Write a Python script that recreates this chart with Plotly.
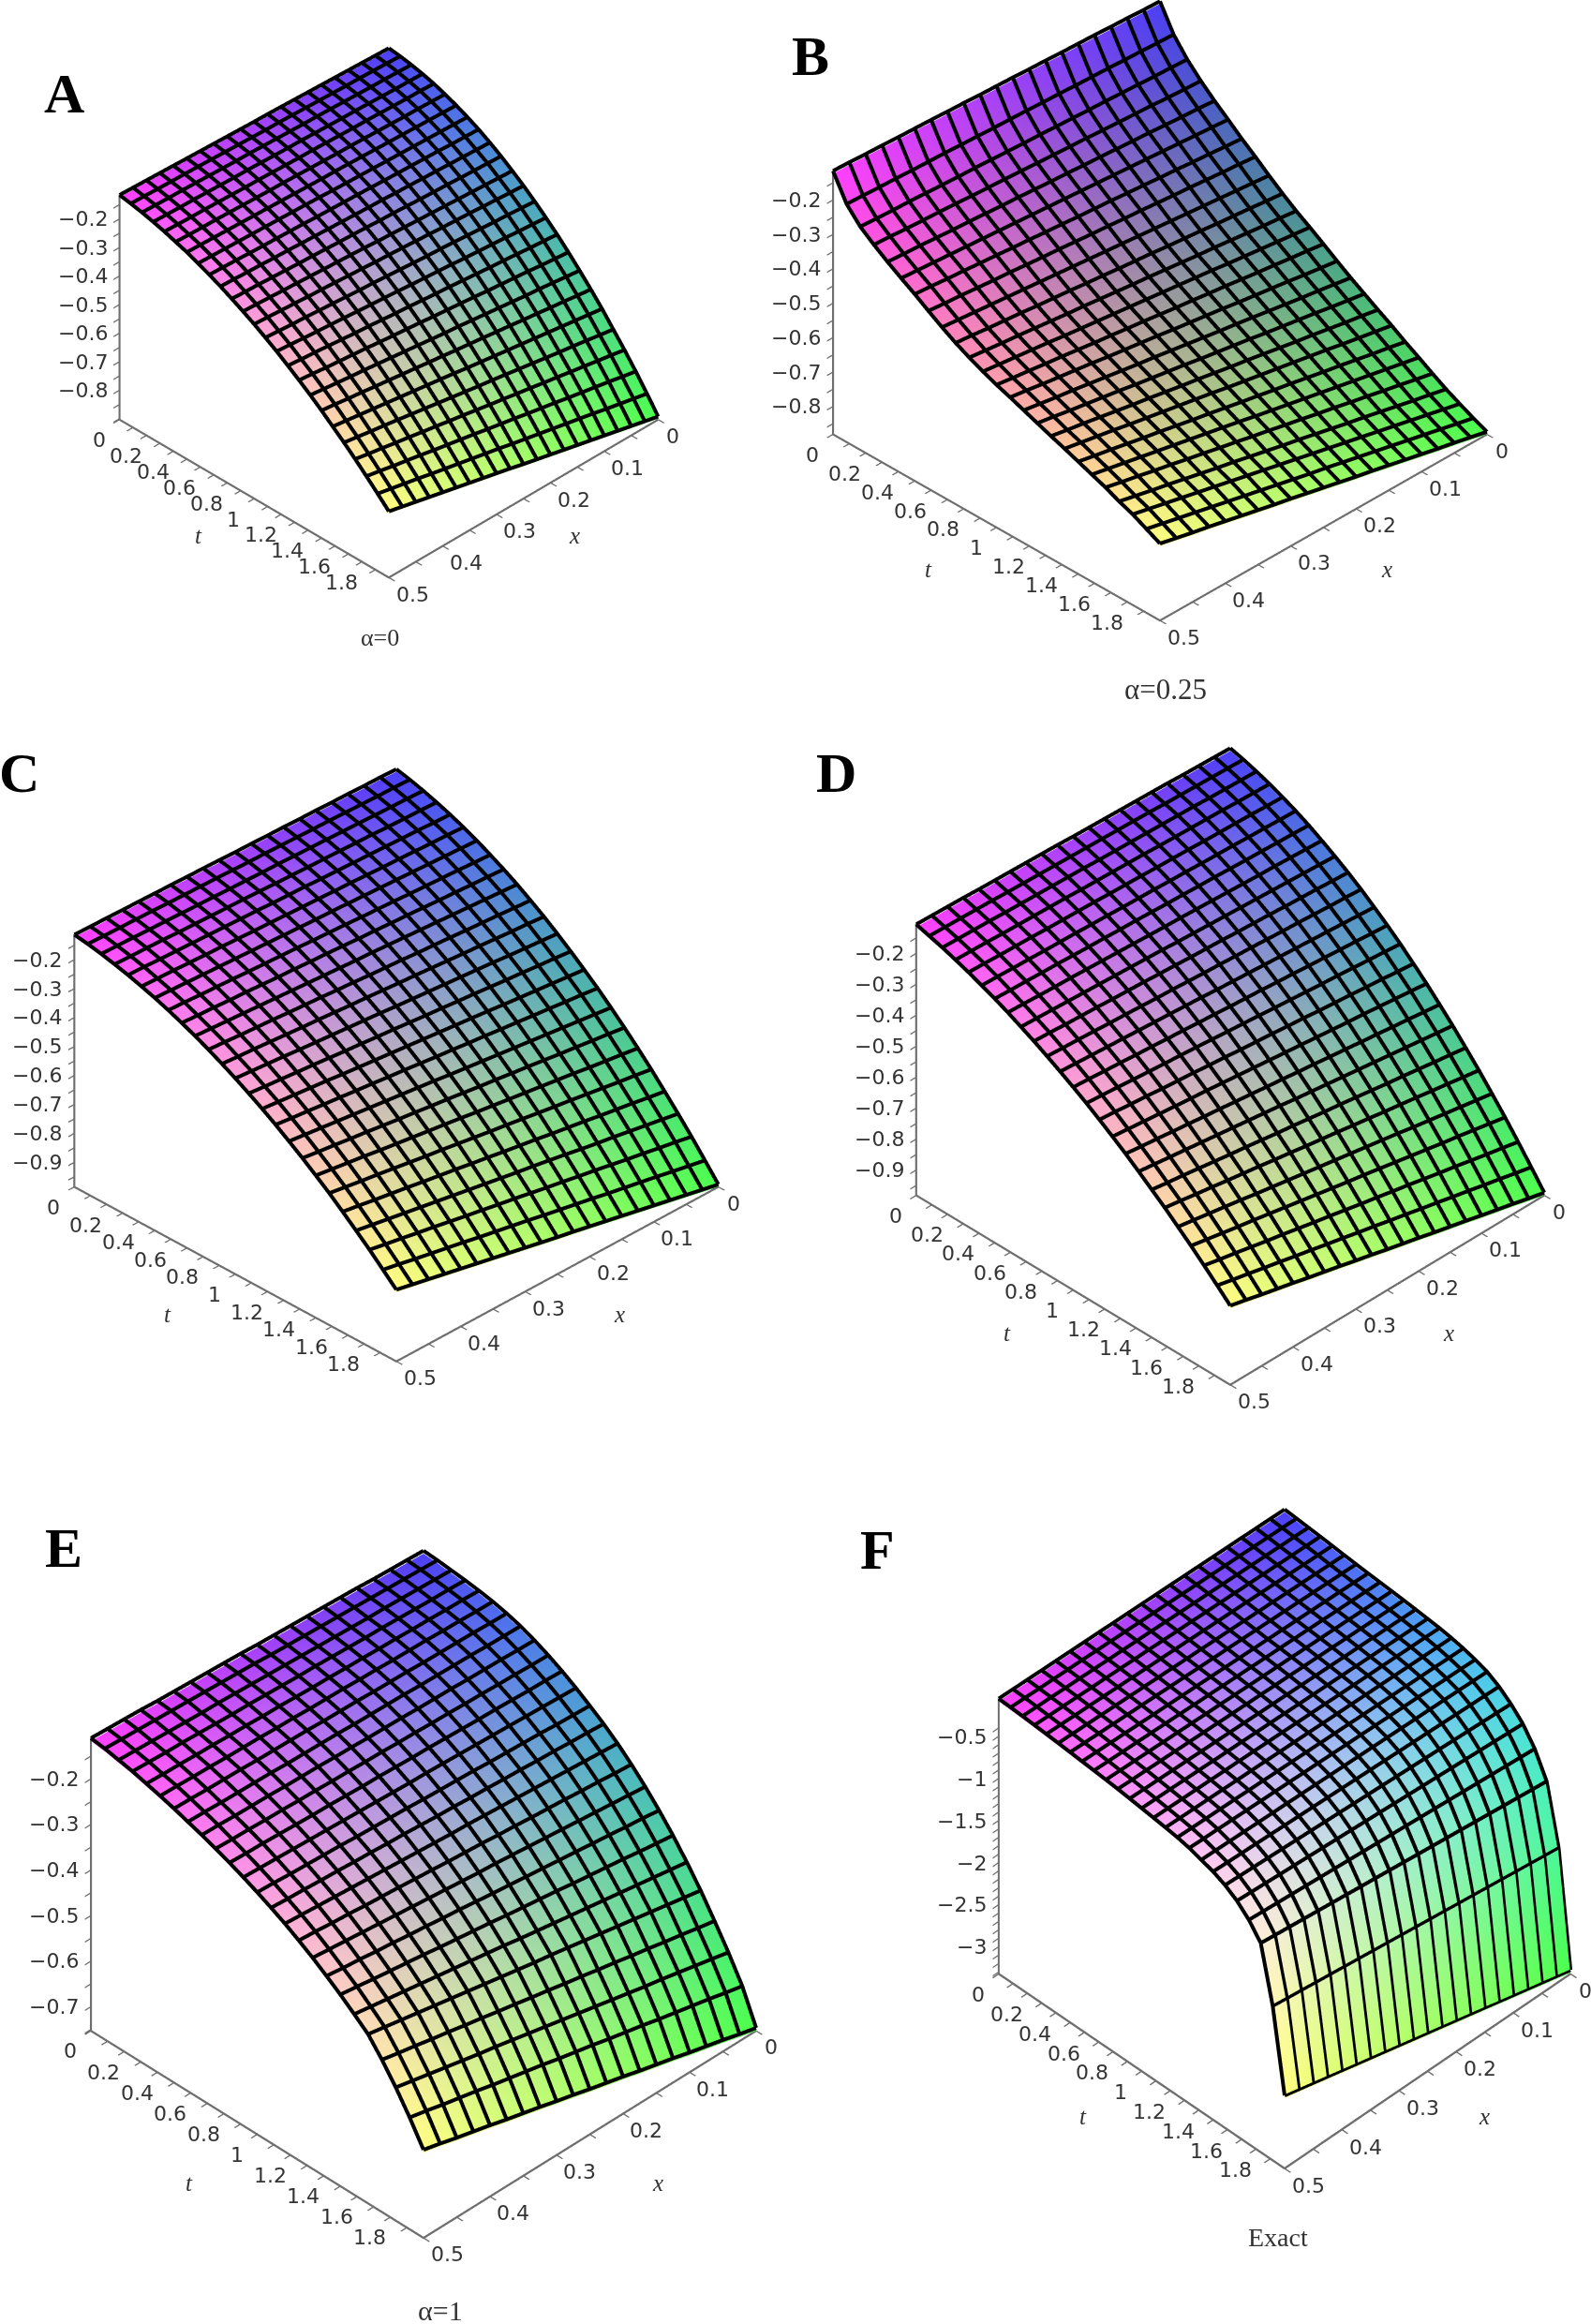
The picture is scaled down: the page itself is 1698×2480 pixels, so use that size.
"""Six Maple-style surface panels: alpha = 0, 0.25, (two unlabelled), 1 and the exact solution."""
import math
import plotly.graph_objects as go

X_VALUES = [0, 0.025, 0.05, 0.075, 0.1, 0.125, 0.15, 0.175, 0.2, 0.225, 0.25, 0.275, 0.3, 0.325, 0.35,
            0.375, 0.4, 0.425, 0.45, 0.475, 0.5]
T_VALUES = [0, 0.0833, 0.1667, 0.25, 0.3333, 0.4167, 0.5, 0.5833, 0.6667, 0.75, 0.8333, 0.9167, 1, 1.0833,
            1.1667, 1.25, 1.3333, 1.4167, 1.5, 1.5833, 1.6667, 1.75, 1.8333, 1.9167, 2]

# surface heights in thousandths, one row per t value, one column per x value
Z_A = [
[-163,-161,-159,-157,-155,-153,-151,-149,-147,-145,-144,-142,-140,-138,-136,-134,-132,-130,-128,-126,-124],
[-168,-166,-164,-162,-161,-159,-157,-155,-153,-151,-150,-148,-146,-144,-142,-140,-138,-137,-135,-133,-131],
[-175,-173,-171,-170,-168,-166,-164,-162,-161,-159,-157,-155,-153,-152,-150,-148,-146,-144,-143,-141,-139],
[-184,-182,-181,-179,-177,-175,-174,-172,-170,-168,-167,-165,-163,-161,-160,-158,-156,-154,-153,-151,-149],
[-195,-193,-192,-190,-188,-186,-185,-183,-181,-179,-178,-176,-174,-172,-171,-169,-167,-165,-164,-162,-160],
[-209,-207,-205,-204,-202,-200,-198,-196,-195,-193,-191,-189,-187,-186,-184,-182,-180,-178,-177,-175,-173],
[-225,-223,-221,-219,-217,-215,-213,-211,-209,-207,-206,-204,-202,-200,-198,-196,-194,-192,-190,-188,-186],
[-243,-241,-239,-237,-235,-233,-231,-229,-227,-225,-223,-220,-218,-216,-214,-212,-210,-208,-206,-204,-202],
[-263,-261,-259,-256,-254,-252,-250,-248,-245,-243,-241,-239,-237,-234,-232,-230,-228,-226,-223,-221,-219],
[-286,-284,-281,-279,-276,-274,-271,-269,-266,-264,-262,-259,-257,-254,-252,-249,-247,-244,-242,-239,-237],
[-311,-308,-306,-303,-300,-298,-295,-292,-289,-287,-284,-281,-279,-276,-273,-271,-268,-265,-262,-260,-257],
[-339,-336,-333,-330,-327,-324,-321,-318,-315,-312,-309,-305,-302,-299,-296,-293,-290,-287,-284,-281,-278],
[-368,-365,-361,-358,-354,-351,-348,-344,-341,-337,-334,-331,-327,-324,-320,-317,-314,-310,-307,-303,-300],
[-400,-396,-392,-389,-385,-381,-377,-373,-370,-366,-362,-358,-354,-351,-347,-343,-339,-335,-332,-328,-324],
[-434,-430,-426,-421,-417,-413,-409,-404,-400,-396,-392,-387,-383,-379,-375,-370,-366,-362,-358,-353,-349],
[-470,-465,-461,-456,-451,-447,-442,-437,-432,-428,-423,-418,-414,-409,-404,-400,-395,-390,-385,-381,-376],
[-509,-504,-499,-493,-488,-483,-478,-472,-467,-462,-457,-451,-446,-441,-436,-430,-425,-420,-415,-409,-404],
[-550,-544,-538,-532,-527,-521,-515,-509,-503,-497,-492,-486,-480,-474,-468,-462,-456,-451,-445,-439,-433],
[-593,-587,-580,-574,-567,-561,-554,-548,-541,-535,-529,-522,-516,-509,-503,-496,-490,-483,-477,-470,-464],
[-638,-631,-624,-617,-610,-603,-596,-589,-582,-575,-568,-560,-553,-546,-539,-532,-525,-518,-511,-504,-497],
[-687,-679,-671,-663,-656,-648,-640,-632,-624,-616,-609,-601,-593,-585,-577,-569,-561,-553,-546,-538,-530],
[-736,-727,-719,-710,-702,-693,-685,-676,-668,-659,-651,-642,-633,-625,-616,-608,-599,-591,-582,-574,-565],
[-788,-779,-769,-760,-751,-742,-732,-723,-714,-704,-695,-686,-676,-667,-658,-649,-639,-630,-621,-611,-602],
[-843,-833,-823,-813,-802,-792,-782,-772,-762,-752,-742,-731,-721,-711,-701,-691,-681,-670,-660,-650,-640],
[-900,-889,-878,-867,-856,-845,-834,-823,-812,-801,-790,-778,-767,-756,-745,-734,-723,-712,-701,-690,-679],
]
Z_B = [
[-171,-169,-166,-164,-161,-159,-157,-154,-152,-149,-147,-145,-142,-140,-137,-135,-133,-130,-128,-125,-123],
[-245,-243,-240,-238,-235,-233,-231,-228,-226,-223,-221,-219,-216,-214,-211,-209,-207,-204,-202,-199,-197],
[-295,-292,-290,-287,-284,-281,-279,-276,-273,-270,-268,-265,-262,-259,-257,-254,-251,-248,-246,-243,-240],
[-335,-332,-329,-325,-322,-319,-316,-312,-309,-306,-303,-299,-296,-293,-290,-286,-283,-280,-277,-273,-270],
[-370,-366,-363,-359,-355,-352,-348,-344,-341,-337,-334,-330,-326,-323,-319,-315,-312,-308,-304,-301,-297],
[-402,-398,-394,-390,-386,-382,-378,-374,-370,-366,-362,-358,-354,-350,-346,-342,-338,-334,-330,-326,-322],
[-435,-431,-426,-422,-417,-413,-408,-404,-399,-395,-391,-386,-382,-377,-373,-368,-364,-359,-355,-350,-346],
[-465,-460,-456,-451,-446,-442,-437,-432,-428,-423,-419,-414,-409,-405,-400,-395,-391,-386,-381,-377,-372],
[-497,-492,-487,-482,-477,-472,-467,-462,-457,-452,-447,-442,-437,-432,-427,-422,-417,-412,-407,-402,-397],
[-527,-522,-516,-511,-506,-500,-495,-490,-484,-479,-474,-468,-463,-457,-452,-447,-441,-436,-431,-425,-420],
[-555,-549,-544,-538,-532,-526,-521,-515,-509,-503,-498,-492,-486,-480,-475,-469,-463,-457,-452,-446,-440],
[-580,-574,-568,-562,-556,-550,-543,-537,-531,-525,-519,-513,-507,-501,-495,-489,-482,-476,-470,-464,-458],
[-606,-599,-593,-586,-580,-573,-566,-560,-553,-547,-540,-533,-527,-520,-514,-507,-500,-494,-487,-481,-474],
[-633,-626,-619,-611,-604,-597,-590,-582,-575,-568,-561,-553,-546,-539,-532,-524,-517,-510,-503,-495,-488],
[-659,-651,-643,-636,-628,-620,-612,-604,-597,-589,-581,-573,-565,-558,-550,-542,-534,-526,-519,-511,-503],
[-683,-675,-667,-658,-650,-642,-634,-625,-617,-609,-601,-592,-584,-576,-568,-559,-551,-543,-535,-526,-518],
[-707,-698,-690,-681,-672,-664,-655,-646,-637,-629,-620,-611,-603,-594,-585,-577,-568,-559,-550,-542,-533],
[-730,-721,-712,-703,-693,-684,-675,-666,-657,-648,-639,-629,-620,-611,-602,-593,-584,-574,-565,-556,-547],
[-755,-745,-736,-726,-716,-707,-697,-687,-678,-668,-659,-649,-639,-630,-620,-610,-601,-591,-581,-572,-562],
[-778,-768,-758,-748,-738,-728,-718,-708,-698,-688,-678,-667,-657,-647,-637,-627,-617,-607,-597,-587,-577],
[-802,-792,-781,-771,-760,-750,-739,-729,-718,-708,-697,-687,-676,-666,-655,-645,-634,-624,-613,-603,-592],
[-825,-814,-804,-793,-782,-771,-761,-750,-739,-728,-718,-707,-696,-685,-675,-664,-653,-642,-632,-621,-610],
[-845,-834,-823,-812,-801,-790,-779,-768,-757,-746,-735,-724,-713,-702,-691,-680,-669,-658,-647,-636,-625],
[-864,-853,-842,-831,-820,-809,-798,-787,-776,-765,-755,-744,-733,-722,-711,-700,-689,-678,-667,-656,-645],
[-881,-870,-859,-849,-838,-827,-816,-805,-795,-784,-773,-762,-751,-741,-730,-719,-708,-697,-687,-676,-665],
]
Z_C = [
[-153,-151,-150,-148,-147,-145,-144,-142,-141,-139,-138,-136,-134,-133,-131,-130,-128,-127,-125,-124,-122],
[-164,-162,-161,-159,-157,-155,-154,-152,-150,-148,-147,-145,-143,-141,-140,-138,-136,-134,-133,-131,-129],
[-177,-175,-173,-171,-169,-167,-165,-163,-161,-159,-158,-156,-154,-152,-150,-148,-146,-144,-142,-140,-138],
[-192,-190,-188,-186,-183,-181,-179,-177,-175,-173,-171,-168,-166,-164,-162,-160,-158,-155,-153,-151,-149],
[-209,-207,-204,-202,-199,-197,-195,-192,-190,-187,-185,-183,-180,-178,-175,-173,-171,-168,-166,-163,-161],
[-228,-225,-223,-220,-217,-215,-212,-209,-207,-204,-202,-199,-196,-194,-191,-188,-186,-183,-180,-178,-175],
[-249,-246,-243,-240,-237,-234,-231,-228,-225,-222,-220,-217,-214,-211,-208,-205,-202,-199,-196,-193,-190],
[-273,-270,-266,-263,-260,-257,-253,-250,-247,-243,-240,-237,-233,-230,-227,-224,-220,-217,-214,-210,-207],
[-298,-294,-291,-287,-284,-280,-276,-273,-269,-266,-262,-258,-255,-251,-248,-244,-240,-237,-233,-230,-226],
[-325,-321,-317,-313,-309,-305,-301,-297,-293,-289,-286,-282,-278,-274,-270,-266,-262,-258,-254,-250,-246],
[-355,-351,-346,-342,-338,-333,-329,-325,-320,-316,-312,-307,-303,-298,-294,-290,-285,-281,-277,-272,-268],
[-386,-381,-377,-372,-367,-363,-358,-353,-348,-344,-339,-334,-330,-325,-320,-316,-311,-306,-301,-297,-292],
[-420,-415,-410,-405,-399,-394,-389,-384,-379,-374,-369,-363,-358,-353,-348,-343,-338,-332,-327,-322,-317],
[-456,-450,-445,-439,-434,-428,-422,-417,-411,-406,-400,-394,-389,-383,-378,-372,-366,-361,-355,-350,-344],
[-494,-488,-482,-476,-470,-464,-457,-451,-445,-439,-433,-427,-421,-415,-409,-403,-396,-390,-384,-378,-372],
[-533,-526,-520,-513,-507,-500,-494,-487,-481,-474,-468,-461,-454,-448,-441,-435,-428,-422,-415,-409,-402],
[-575,-568,-561,-554,-547,-540,-533,-526,-519,-512,-505,-497,-490,-483,-476,-469,-462,-455,-448,-441,-434],
[-619,-611,-604,-596,-589,-581,-573,-566,-558,-551,-543,-535,-528,-520,-513,-505,-497,-490,-482,-475,-467],
[-665,-657,-649,-641,-632,-624,-616,-608,-600,-592,-584,-575,-567,-559,-551,-543,-535,-526,-518,-510,-502],
[-713,-704,-696,-687,-678,-669,-661,-652,-643,-634,-626,-617,-608,-599,-591,-582,-573,-564,-556,-547,-538],
[-764,-755,-745,-736,-727,-717,-708,-699,-689,-680,-671,-661,-652,-642,-633,-624,-614,-605,-596,-586,-577],
[-816,-806,-796,-786,-776,-767,-757,-746,-736,-726,-717,-707,-697,-687,-677,-667,-657,-647,-637,-627,-617],
[-870,-859,-849,-838,-828,-817,-806,-796,-785,-775,-764,-753,-743,-732,-722,-711,-700,-690,-679,-669,-658],
[-927,-916,-905,-893,-882,-871,-860,-848,-837,-826,-815,-803,-792,-781,-770,-758,-747,-736,-725,-713,-702],
[-985,-973,-961,-949,-937,-925,-913,-901,-889,-877,-866,-854,-842,-830,-818,-806,-794,-782,-770,-758,-746],
]
Z_D = [
[-158,-156,-154,-152,-149,-147,-145,-143,-141,-139,-137,-134,-132,-130,-128,-126,-124,-121,-119,-117,-115],
[-169,-167,-165,-163,-161,-159,-156,-154,-152,-150,-148,-146,-144,-142,-140,-138,-135,-133,-131,-129,-127],
[-182,-180,-178,-176,-173,-171,-169,-167,-165,-163,-161,-158,-156,-154,-152,-150,-148,-145,-143,-141,-139],
[-197,-195,-193,-190,-188,-186,-184,-182,-179,-177,-175,-173,-171,-168,-166,-164,-162,-160,-157,-155,-153],
[-214,-212,-209,-207,-205,-203,-200,-198,-196,-193,-191,-189,-186,-184,-182,-180,-177,-175,-173,-170,-168],
[-233,-231,-228,-226,-223,-221,-219,-216,-214,-211,-209,-207,-204,-202,-199,-197,-195,-192,-190,-187,-185],
[-254,-251,-249,-246,-244,-241,-238,-236,-233,-231,-228,-225,-223,-220,-218,-215,-212,-210,-207,-205,-202],
[-278,-275,-272,-269,-267,-264,-261,-258,-255,-252,-250,-247,-244,-241,-238,-235,-232,-230,-227,-224,-221],
[-303,-300,-297,-294,-291,-288,-285,-282,-279,-276,-273,-269,-266,-263,-260,-257,-254,-251,-248,-245,-242],
[-330,-327,-323,-320,-317,-313,-310,-307,-303,-300,-297,-293,-290,-286,-283,-280,-276,-273,-270,-266,-263],
[-359,-355,-352,-348,-344,-341,-337,-333,-330,-326,-323,-319,-315,-312,-308,-304,-301,-297,-293,-290,-286],
[-391,-387,-383,-379,-375,-371,-367,-363,-359,-355,-351,-346,-342,-338,-334,-330,-326,-322,-318,-314,-310],
[-424,-420,-415,-411,-406,-402,-397,-393,-388,-384,-380,-375,-371,-366,-362,-357,-353,-348,-344,-339,-335],
[-459,-454,-449,-444,-439,-435,-430,-425,-420,-415,-410,-405,-400,-395,-390,-386,-381,-376,-371,-366,-361],
[-497,-492,-486,-481,-475,-470,-465,-459,-454,-448,-443,-438,-432,-427,-421,-416,-411,-405,-400,-394,-389],
[-536,-530,-524,-518,-512,-507,-501,-495,-489,-483,-477,-471,-465,-459,-453,-448,-442,-436,-430,-424,-418],
[-578,-572,-565,-559,-552,-546,-539,-533,-526,-520,-513,-507,-500,-494,-487,-481,-474,-468,-461,-455,-448],
[-621,-614,-607,-600,-593,-586,-579,-572,-565,-558,-551,-543,-536,-529,-522,-515,-508,-501,-494,-487,-480],
[-667,-659,-652,-644,-636,-629,-621,-613,-605,-598,-590,-582,-575,-567,-559,-552,-544,-536,-528,-521,-513],
[-714,-706,-697,-689,-680,-672,-664,-655,-647,-638,-630,-622,-613,-605,-596,-588,-580,-571,-563,-554,-546],
[-764,-755,-746,-737,-728,-719,-709,-700,-691,-682,-673,-664,-655,-646,-637,-628,-618,-609,-600,-591,-582],
[-815,-805,-795,-785,-776,-766,-756,-746,-736,-726,-717,-707,-697,-687,-677,-667,-657,-648,-638,-628,-618],
[-869,-858,-848,-837,-826,-816,-805,-794,-784,-773,-763,-752,-741,-731,-720,-709,-699,-688,-677,-667,-656],
[-925,-914,-902,-891,-879,-868,-856,-845,-833,-822,-810,-799,-787,-776,-764,-753,-741,-730,-718,-707,-695],
[-982,-970,-957,-945,-933,-920,-908,-896,-883,-871,-859,-846,-834,-821,-809,-797,-784,-772,-760,-747,-735],
]
Z_E = [
[-160,-158,-156,-154,-151,-149,-147,-145,-143,-141,-139,-136,-134,-132,-130,-128,-126,-123,-121,-119,-117],
[-162,-160,-158,-156,-154,-152,-150,-148,-146,-144,-142,-139,-137,-135,-133,-131,-129,-127,-125,-123,-121],
[-165,-163,-161,-159,-157,-156,-154,-152,-150,-148,-146,-144,-142,-140,-138,-137,-135,-133,-131,-129,-127],
[-168,-166,-165,-163,-161,-159,-158,-156,-154,-152,-151,-149,-147,-145,-144,-142,-140,-138,-137,-135,-133],
[-172,-170,-169,-167,-166,-164,-163,-161,-160,-158,-157,-155,-153,-152,-150,-149,-147,-146,-144,-143,-141],
[-177,-176,-174,-173,-171,-170,-169,-167,-166,-164,-163,-162,-160,-159,-157,-156,-155,-153,-152,-150,-149],
[-184,-183,-181,-180,-179,-178,-176,-175,-174,-172,-171,-170,-168,-167,-166,-165,-163,-162,-161,-159,-158],
[-193,-192,-191,-189,-188,-187,-186,-184,-183,-182,-181,-179,-178,-177,-176,-174,-173,-172,-171,-169,-168],
[-205,-204,-202,-201,-200,-198,-197,-196,-194,-193,-192,-190,-189,-187,-186,-185,-183,-182,-181,-179,-178],
[-219,-218,-216,-215,-213,-212,-210,-209,-207,-206,-204,-203,-201,-200,-198,-197,-195,-194,-192,-191,-189],
[-235,-233,-232,-230,-228,-227,-225,-223,-221,-220,-218,-216,-215,-213,-211,-210,-208,-206,-204,-203,-201],
[-253,-251,-249,-247,-245,-243,-241,-239,-237,-235,-234,-232,-230,-228,-226,-224,-222,-220,-218,-216,-214],
[-273,-271,-269,-266,-264,-262,-260,-257,-255,-253,-251,-248,-246,-244,-242,-239,-237,-235,-233,-230,-228],
[-294,-291,-289,-286,-284,-281,-279,-276,-274,-271,-269,-266,-263,-261,-258,-256,-253,-251,-248,-246,-243],
[-318,-315,-312,-309,-306,-303,-300,-297,-294,-291,-289,-286,-283,-280,-277,-274,-271,-268,-265,-262,-259],
[-345,-342,-338,-335,-331,-328,-325,-321,-318,-314,-311,-308,-304,-301,-297,-294,-291,-287,-284,-280,-277],
[-375,-371,-367,-363,-359,-355,-351,-347,-343,-339,-336,-332,-328,-324,-320,-316,-312,-308,-304,-300,-296],
[-408,-403,-399,-394,-390,-385,-381,-376,-372,-367,-363,-358,-353,-349,-344,-340,-335,-331,-326,-322,-317],
[-444,-439,-434,-428,-423,-418,-413,-407,-402,-397,-392,-386,-381,-376,-371,-365,-360,-355,-350,-344,-339],
[-484,-478,-472,-466,-460,-454,-448,-442,-436,-430,-424,-417,-411,-405,-399,-393,-387,-381,-375,-369,-363],
[-527,-520,-513,-506,-499,-492,-485,-478,-471,-464,-458,-451,-444,-437,-430,-423,-416,-409,-402,-395,-388],
[-575,-568,-560,-553,-545,-538,-530,-523,-515,-508,-500,-493,-485,-478,-470,-463,-455,-448,-440,-433,-425],
[-625,-617,-609,-601,-593,-586,-578,-570,-562,-554,-546,-538,-530,-522,-514,-507,-499,-491,-483,-475,-467],
[-680,-672,-663,-655,-647,-639,-630,-622,-614,-605,-597,-589,-580,-572,-564,-556,-547,-539,-531,-522,-514],
[-753,-744,-734,-725,-716,-706,-697,-688,-678,-669,-660,-650,-641,-631,-622,-613,-603,-594,-585,-575,-566],
]
Z_F = [
[-149,-146,-143,-139,-136,-133,-130,-127,-123,-120,-117,-114,-111,-107,-104,-101,-98,-95,-91,-88,-85],
[-160,-157,-153,-150,-146,-143,-140,-136,-133,-129,-126,-123,-119,-116,-112,-109,-106,-102,-99,-95,-92],
[-172,-168,-165,-161,-158,-154,-150,-147,-143,-140,-136,-132,-129,-125,-122,-118,-114,-111,-107,-104,-100],
[-183,-179,-176,-172,-168,-165,-161,-157,-154,-150,-147,-143,-139,-136,-132,-128,-125,-121,-117,-114,-110],
[-196,-192,-188,-185,-181,-177,-173,-169,-166,-162,-158,-154,-150,-147,-143,-139,-135,-131,-128,-124,-120],
[-210,-206,-202,-198,-194,-190,-186,-182,-178,-174,-171,-167,-163,-159,-155,-151,-147,-143,-139,-135,-131],
[-222,-218,-214,-210,-206,-202,-198,-194,-190,-186,-183,-179,-175,-171,-167,-163,-159,-155,-151,-147,-143],
[-234,-230,-226,-222,-218,-215,-211,-207,-203,-199,-195,-191,-187,-183,-179,-176,-172,-168,-164,-160,-156],
[-244,-240,-236,-233,-229,-225,-221,-217,-214,-210,-206,-202,-198,-195,-191,-187,-183,-179,-176,-172,-168],
[-254,-250,-247,-243,-239,-236,-232,-228,-225,-221,-218,-214,-210,-207,-203,-199,-196,-192,-188,-185,-181],
[-265,-262,-258,-255,-251,-248,-244,-241,-237,-234,-230,-227,-223,-220,-216,-213,-209,-206,-202,-199,-195],
[-278,-275,-271,-268,-265,-262,-258,-255,-252,-248,-245,-242,-238,-235,-232,-229,-225,-222,-219,-215,-212],
[-292,-289,-286,-283,-280,-277,-273,-270,-267,-264,-261,-258,-255,-252,-249,-246,-242,-239,-236,-233,-230],
[-306,-303,-300,-297,-294,-292,-289,-286,-283,-280,-277,-274,-271,-268,-265,-263,-260,-257,-254,-251,-248],
[-327,-324,-321,-318,-315,-312,-309,-306,-303,-300,-297,-294,-291,-288,-285,-282,-279,-276,-273,-270,-267],
[-355,-352,-348,-345,-342,-338,-335,-332,-328,-325,-322,-318,-315,-312,-308,-305,-301,-298,-295,-291,-288],
[-392,-388,-385,-381,-377,-374,-370,-366,-362,-359,-355,-351,-348,-344,-340,-337,-333,-329,-325,-322,-318],
[-440,-436,-432,-428,-424,-421,-417,-413,-409,-405,-401,-397,-393,-389,-385,-382,-378,-374,-370,-366,-362],
[-520,-514,-509,-503,-497,-491,-486,-480,-474,-468,-463,-457,-451,-445,-440,-434,-428,-422,-417,-411,-405],
[-630,-622,-614,-606,-598,-590,-582,-574,-566,-558,-550,-542,-534,-526,-518,-510,-502,-494,-486,-478,-470],
[-770,-760,-749,-739,-728,-718,-707,-697,-686,-676,-665,-655,-644,-634,-623,-613,-602,-592,-581,-571,-560],
[-970,-956,-942,-928,-914,-900,-886,-872,-858,-844,-830,-816,-802,-788,-774,-760,-746,-732,-718,-704,-690],
[-1260,-1241,-1221,-1202,-1182,-1163,-1143,-1124,-1104,-1085,-1065,-1046,-1026,-1007,-987,-968,-948,-929,-909,-890,-870],
[-1950,-1929,-1907,-1886,-1864,-1843,-1821,-1800,-1778,-1757,-1735,-1714,-1692,-1671,-1649,-1628,-1606,-1585,-1563,-1542,-1520],
[-3310,-3269,-3228,-3187,-3146,-3105,-3063,-3022,-2981,-2940,-2899,-2858,-2817,-2776,-2735,-2694,-2652,-2611,-2570,-2529,-2488],
]

Z_RANGES = {"A": (-0.903, -0.124), "B": (-0.881, -0.123), "C": (-0.985, -0.122),
            "D": (-0.982, -0.115), "E": (-0.753, -0.117), "F": (-3.323, -0.085)}
Z_TICKS = {"A": [-0.2, -0.3, -0.4, -0.5, -0.6, -0.7, -0.8],
           "B": [-0.2, -0.3, -0.4, -0.5, -0.6, -0.7, -0.8],
           "C": [-0.2, -0.3, -0.4, -0.5, -0.6, -0.7, -0.8, -0.9],
           "D": [-0.2, -0.3, -0.4, -0.5, -0.6, -0.7, -0.8, -0.9],
           "E": [-0.2, -0.3, -0.4, -0.5, -0.6, -0.7],
           "F": [-0.5, -1, -1.5, -2, -2.5, -3]}
X_TICKS = [0, 0.1, 0.2, 0.3, 0.4, 0.5]
T_TICKS = [0, 0.2, 0.4, 0.6, 0.8, 1, 1.2, 1.4, 1.6, 1.8]
CAPTIONS = {"A": ("α=0", 26), "B": ("α=0.25", 31), "E": ("α=1", 30), "F": ("Exact", 28)}
GRIDS = {"A": Z_A, "B": Z_B, "C": Z_C, "D": Z_D, "E": Z_E, "F": Z_F}

W, H = 1698, 2480
# centre x, centre y, half width, px per unit, elevation, z aspect
VIEWS = {"A": (415, 328, 415, 406.6, 35.9, 0.728),
         "B": (1238, 323, 400, 493.6, 34.7, 0.693),
         "C": (423, 1132, 423, 486, 32.8, 0.659),
         "D": (1313, 1131, 385, 474, 37.1, 0.765),
         "E": (452, 2011, 452, 502, 38.5, 0.795),
         "F": (1371, 1960, 327, 431.6, 42.9, 0.929)}

LABELS = {"A": ((68, 100), (212, 571), (613, 571), (405, 680)),
          "B": ((865, 60), (991, 607), (1480, 607), (1244, 735)),
          "C": ((20, 825), (179, 1402), (661, 1402), None),
          "D": ((893, 825), (1075, 1423), (1546, 1423), None),
          "E": ((68, 1652), (202, 2329), (702, 2329), (470, 2465)),
          "F": ((936, 1654), (1156, 2258), (1584, 2258), (1364, 2387))}

TICK_FONT = dict(family="DejaVu Sans", size=22, color="#333333")
AXIS_GREY = "#6e6e6e"


def shade(x, t, z, zr):
    r = 0.3 + 0.7 * x / 0.5
    g = 0.25 + 0.75 * t / 2
    b = 0.3 + 0.7 * (z - zr[0]) / (zr[1] - zr[0])
    return f"rgb({r*255:.0f},{g*255:.0f},{b*255:.0f})"


def tick_axis(major, minor, rng):
    return dict(range=rng, autorange=False, tickmode="array", tickvals=major + minor,
                showticklabels=False, showgrid=False, showbackground=False, zeroline=False,
                showspikes=False, showline=True, linecolor=AXIS_GREY, linewidth=5,
                ticks="outside", ticklen=9, tickcolor=AXIS_GREY, tickwidth=3, title=dict(text=""))


def tick_labels(name, zr):
    out = []
    common = dict(showarrow=False, font=TICK_FONT)
    floor = zr[0] + 0.0005  # a label exactly on the range end can get dropped
    for v in X_TICKS:
        dx = 16 if v == 0 else 25
        out.append(dict(x=v, y=2, z=floor, text="%g" % v, xshift=dx, yshift=-18, **common))
    for v in T_TICKS:
        out.append(dict(x=0.5, y=v, z=floor, text="%g" % v, xshift=-22, yshift=-22, **common))
    for v in Z_TICKS[name]:
        out.append(dict(x=0.5, y=0, z=v, text=("%g" % v).replace("-", "−"), xanchor="right",
                        xshift=-11, **common))
    return out


fig = go.Figure()
layout = {}
annos = []
for n, name in enumerate("ABCDEF"):
    scene = "scene" if n == 0 else f"scene{n+1}"
    zr = Z_RANGES[name]
    rows = [[v / 1000 for v in row] for row in GRIDS[name]]
    nt, nx = len(rows), len(X_VALUES)
    xs, ts, zs, cols = [], [], [], []
    for j, row in enumerate(rows):
        for i, z in enumerate(row):
            xs.append(X_VALUES[i]); ts.append(T_VALUES[j]); zs.append(z)
            cols.append(shade(X_VALUES[i], T_VALUES[j], z, zr))
    ii, jj, kk = [], [], []
    for j in range(nt - 1):
        for i in range(nx - 1):
            p = j * nx + i
            ii += [p, p]; jj += [p + 1, p + nx + 1]; kk += [p + nx + 1, p + nx]
    fig.add_trace(go.Mesh3d(x=xs, y=ts, z=zs, i=ii, j=jj, k=kk, vertexcolor=cols, scene=scene,
                            flatshading=False, hoverinfo="skip",
                            lighting=dict(ambient=1, diffuse=0, specular=0, roughness=1, fresnel=0)))
    # grid sits above the patches so the wide lines don't sink into them in the depth buffer
    lift = 0.01 * (zr[1] - zr[0])
    lx, ly, lz = [], [], []
    for j in range(nt):
        lx += X_VALUES + [None]; ly += [T_VALUES[j]] * nx + [None]
        lz += [v + lift for v in rows[j]] + [None]
    for i in range(nx):
        lx += [X_VALUES[i]] * nt + [None]; ly += T_VALUES + [None]
        lz += [r[i] + lift for r in rows] + [None]
    fig.add_trace(go.Scatter3d(x=lx, y=ly, z=lz, mode="lines", scene=scene, showlegend=False,
                               hoverinfo="skip", line=dict(color="black", width=8)))

    cx, cy, hw, a, el, zasp = VIEWS[name]
    top = min(max(cy - a, 0), H - 2 * a)
    cz = (cy - (top + a)) / (math.cos(math.radians(el)) * a)
    ez = math.sqrt(2) * math.tan(math.radians(el))
    zmajor = Z_TICKS[name]
    step = 0.05 if name != "F" else 0.1
    zminor = []
    v = zmajor[0] + step
    while v > zr[0]:
        if all(abs(v - m) > 1e-6 for m in zmajor) and v < zr[1]:
            zminor.append(round(v, 3))
        v -= step
    layout[scene] = dict(
        domain=dict(x=[(cx - hw) / W, (cx + hw) / W], y=[1 - (top + 2 * a) / H, 1 - top / H]),
        xaxis=tick_axis(X_TICKS, [0.05, 0.15, 0.25, 0.35, 0.45], [0, 0.5]),
        yaxis=tick_axis(T_TICKS, [0.1, 0.3, 0.5, 0.7, 0.9, 1.1, 1.3, 1.5, 1.7, 1.9], [0, 2]),
        zaxis=tick_axis(zmajor, zminor, [zr[0], zr[1] + lift]),
        aspectmode="manual", aspectratio=dict(x=1, y=1, z=zasp),
        camera=dict(projection=dict(type="orthographic"), eye=dict(x=1, y=1, z=ez + cz),
                    up=dict(x=0, y=0, z=1), center=dict(x=0, y=0, z=cz)),
        annotations=tick_labels(name, zr),
        bgcolor="rgba(0,0,0,0)")

    letter, tpos, xpos, cap = LABELS[name]
    common = dict(xref="paper", yref="paper", showarrow=False, xanchor="center", yanchor="middle")
    annos.append(dict(x=letter[0] / W, y=1 - letter[1] / H, text=f"<b>{name}</b>",
                      font=dict(family="Liberation Serif", size=60, color="black"), **common))
    for pos, txt in ((tpos, "t"), (xpos, "x")):
        annos.append(dict(x=pos[0] / W, y=1 - pos[1] / H, text=f"<i>{txt}</i>",
                          font=dict(family="Liberation Serif", size=25, color="#333333"), **common))
    if cap:
        annos.append(dict(x=cap[0] / W, y=1 - cap[1] / H, text=CAPTIONS[name][0],
                          font=dict(family="Liberation Serif", size=CAPTIONS[name][1], color="#333333"),
                          **common))

fig.update_layout(width=W, height=H, margin=dict(l=0, r=0, t=0, b=0), paper_bgcolor="white",
                  showlegend=False, annotations=annos, **layout)
fig.write_html("out.html", config={"displayModeBar": False},
               post_script="document.body.style.margin='0';")
